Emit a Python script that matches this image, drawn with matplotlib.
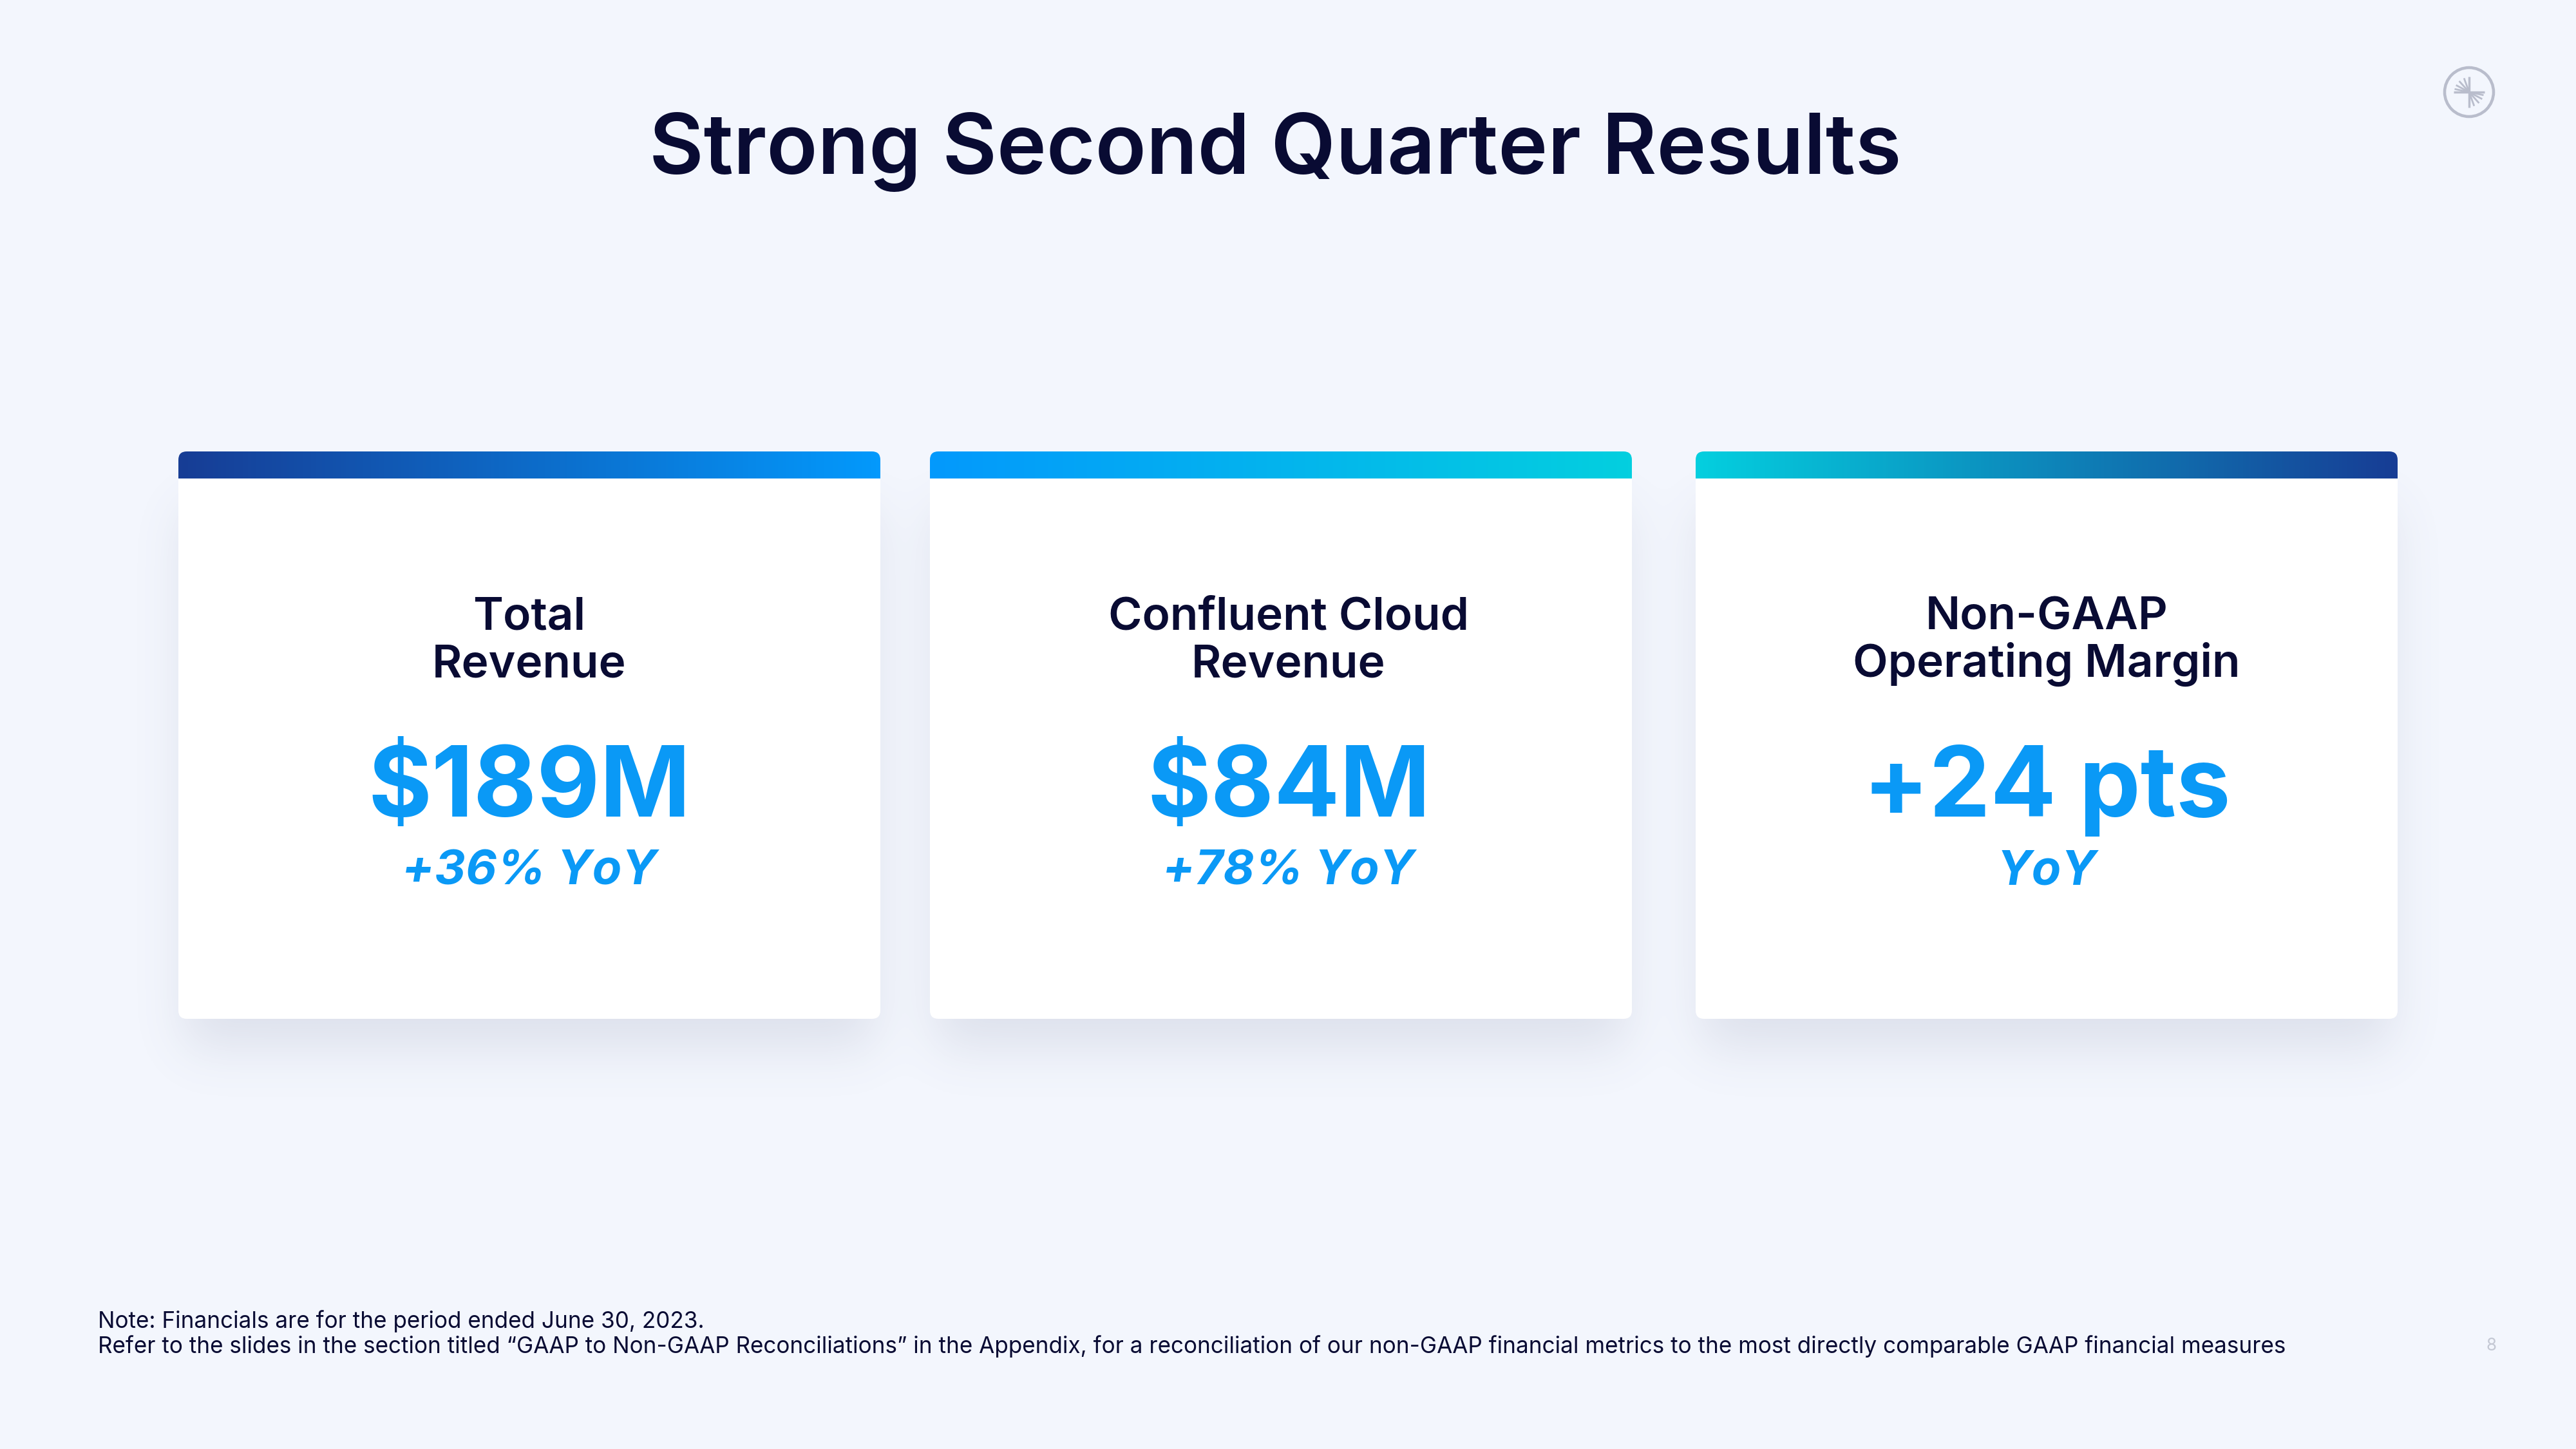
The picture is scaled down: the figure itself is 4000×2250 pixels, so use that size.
import math

import numpy as np
import matplotlib
matplotlib.use("Agg")
import matplotlib.pyplot as plt
from matplotlib.patches import FancyBboxPatch, Circle
from matplotlib.colors import LinearSegmentedColormap, to_rgb

plt.rcParams["font.family"] = ["Inter", "DejaVu Sans"]

# canvas in pixels (16 x 9 in @ 250 dpi)
W, H = 4000, 2250
BG = "#F3F6FD"
NAVY = "#090B33"
BLUE = "#0A99F6"
GREY = "#B9BDCC"

# -------- content --------
title = "Strong Second Quarter Results"
metric_labels = ["Total\nRevenue", "Confluent Cloud\nRevenue", "Non-GAAP\nOperating Margin"]
metric_values = ["$189M", "$84M", "+24 pts"]
metric_changes = ["+36% YoY", "+78% YoY", "YoY"]
bar_colors = [("#173D95", "#0399FC"), ("#0399FC", "#04CFDF"), ("#04CFDF", "#173D95")]
notes = [
    "Note: Financials are for the period ended June 30, 2023.",
    "Refer to the slides in the section titled \u201cGAAP to Non-GAAP Reconciliations\u201d in the Appendix, "
    "for a reconciliation of our non-GAAP financial metrics to the most directly comparable GAAP financial measures",
]
page_no = "8"

# -------- layout --------
card_x = [277, 1444, 2633]
text_dx = [0, 12, 0]
card_w = 1090
card_top, card_bot = 701, 1582
bar_h = 42


def soft_edge(xs, a, b, s):
    k = s * math.sqrt(2)
    return np.array([0.5 * (math.erf((x - a) / k) - math.erf((x - b) / k)) for x in xs])


fig = plt.figure(figsize=(16, 9), dpi=250, facecolor=BG)
ax = fig.add_axes([0, 0, 1, 1])
ax.set_facecolor(BG)
ax.set_axis_off()

# soft drop shadow under the cards
step = 4
xs = np.arange(0, W, step) + step / 2
ys = np.arange(0, H, step) + step / 2
alpha = np.zeros((len(ys), len(xs)))
for x0 in card_x:
    fx = soft_edge(xs, x0 + 10, x0 + card_w - 10, 38)
    fy = soft_edge(ys, card_top + 90, card_bot + 45, 40)
    alpha += np.outer(fy, fx)
shadow = np.zeros((len(ys), len(xs), 4))
shadow[..., :3] = to_rgb("#5E668A")
shadow[..., 3] = np.clip(alpha * 0.15, 0, 1)
ax.imshow(shadow, extent=(0, W, H, 0), interpolation="bilinear", aspect="auto", zorder=1)

grad = np.linspace(0, 1, 256)[None, :]
for i, x0 in enumerate(card_x):
    card = FancyBboxPatch((x0, card_top), card_w, card_bot - card_top,
                          boxstyle="round,pad=0,rounding_size=13",
                          fc="white", ec="none", zorder=2)
    ax.add_patch(card)
    cmap = LinearSegmentedColormap.from_list(f"bar{i}", bar_colors[i])
    im = ax.imshow(grad, cmap=cmap, extent=(x0, x0 + card_w, card_top + bar_h, card_top),
                   aspect="auto", interpolation="bilinear", zorder=3)
    im.set_clip_path(card)

    cx = x0 + card_w / 2 + text_dx[i]
    for j, line in enumerate(metric_labels[i].split("\n")):
        ax.text(cx, 978 + 73 * j, line, ha="center", va="baseline",
                fontsize=20.5, fontweight="semibold", color=NAVY, zorder=4)
    ax.text(cx, 1268, metric_values[i], ha="center", va="baseline", parse_math=False,
            fontsize=43.5, fontweight="bold", color=BLUE, zorder=4)
    ax.text(cx, 1374, metric_changes[i], ha="center", va="baseline",
            fontsize=21.5, fontweight="bold", fontstyle="italic", color=BLUE, zorder=4)

# title
ax.text(1980, 270, title, ha="center", va="baseline",
        fontsize=37.5, fontweight="semibold", color=NAVY)

# logo (top right)
lx, ly, lr = 3834, 143, 38
ax.add_patch(Circle((lx, ly), lr, fill=False, ec=GREY, lw=1.3, zorder=4))
ax.plot([lx - 24, lx + 24], [ly, ly], color=GREY, lw=1.0, solid_capstyle="butt", zorder=4)
ax.plot([lx, lx], [ly - 24, ly + 24], color=GREY, lw=1.0, solid_capstyle="butt", zorder=4)
for ang in (110, 132, 152, 168):
    for flip in (0, 180):
        a = math.radians(ang + flip)
        ax.plot([lx, lx + 23 * math.cos(a)], [ly, ly - 23 * math.sin(a)],
                color=GREY, lw=0.8, solid_capstyle="butt", zorder=4)

# footnotes
for k, line in enumerate(notes):
    ax.text(152, 2062 + 39 * k, line, ha="left", va="baseline",
            fontsize=10.1, color=NAVY)
ax.text(3868, 2097, page_no, ha="center", va="baseline", fontsize=7.5, color="#C3C7D3")

ax.set_xlim(0, W)
ax.set_ylim(H, 0)

fig.savefig("out.png", dpi=250, facecolor=BG)
